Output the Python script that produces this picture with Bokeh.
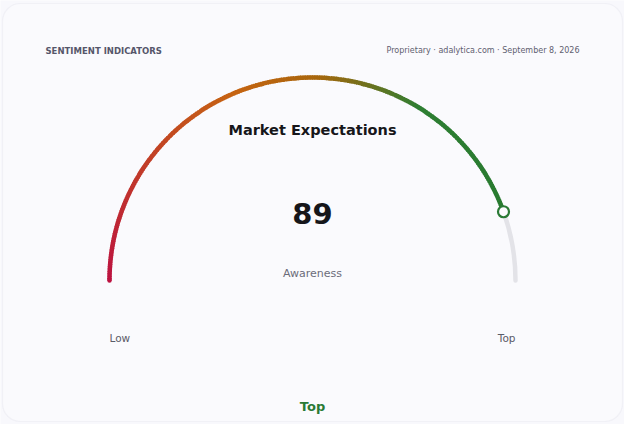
import numpy as np
from bokeh.plotting import figure
from bokeh.models import Range1d, BoxAnnotation
from bokeh.core.properties import value
from bokeh.embed import file_html
from bokeh.resources import INLINE

# ---- data ----
header_left = "SENTIMENT INDICATORS"
header_right = "Proprietary · adalytica.com · September 8, 2026"
title = "Market Expectations"
metric_label = "Awareness"
gauge_value = 89
gauge_min = 0
gauge_max = 100
scale_labels = ["Low", "Top"]
band_label = "Top"

# ---- layout ----
W, H = 624, 424
BG = "#f8f8fc"
CARD = "#fafafd"
FONT = value("DejaVu Sans")

p = figure(width=W, height=H, x_range=Range1d(0, W), y_range=Range1d(0, H),
           output_backend="svg", toolbar_location=None, min_border=0)
p.axis.visible = False
p.grid.visible = False
p.outline_line_color = None
p.background_fill_color = BG
p.border_fill_color = BG

card = BoxAnnotation(left=2, right=622, bottom=3, top=421, fill_color=CARD, fill_alpha=1,
                     line_color="#dfdfe8", line_width=1.2, border_radius=18, level="underlay")
p.add_layout(card)

cx, cy, R = 312, 144, 203
frac = (gauge_value - gauge_min) / (gauge_max - gauge_min)
theta_v = np.pi * (1 - frac)

# grey remainder
p.arc(x=[cx], y=[cy], radius=R, start_angle=0, end_angle=theta_v,
      line_color="#e3e3e8", line_width=4.5, line_cap="round")

# gradient portion
stops = [(0.0, (188, 18, 64)), (0.42, (198, 100, 18)), (0.57, (168, 102, 12)),
         (0.76, (46, 126, 50)), (1.0, (40, 122, 48))]
def grad(t):
    for (t0, c0), (t1, c1) in zip(stops[:-1], stops[1:]):
        if t <= t1:
            u = (t - t0) / (t1 - t0)
            c = [int(round(a + (b - a) * u)) for a, b in zip(c0, c1)]
            return "#%02x%02x%02x" % tuple(c)
    return "#%02x%02x%02x" % stops[-1][1]

n = 240
edges = np.linspace(np.pi, theta_v, n + 1)
starts = edges[1:]
ends = edges[:-1] + 0.004
ends[0] = edges[0]
cols = [grad((i + 0.5) / n) for i in range(n)]
p.arc(x=[cx] * n, y=[cy] * n, radius=R, start_angle=list(starts), end_angle=list(ends),
      line_color=cols, line_width=4.5, line_cap="butt")
# round cap at start
p.scatter(x=[cx - R], y=[cy], size=4.5, color=cols[0], line_color=None)

# marker
p.scatter(x=[cx + R * np.cos(theta_v)], y=[cy + R * np.sin(theta_v)], size=11,
          fill_color=CARD, line_color="#2a7a35", line_width=2.2)

# texts
p.text(x=[45], y=[374], text=[header_left], text_font=FONT, text_font_style="bold",
       text_font_size="8.5px", text_color="#55566a", text_baseline="middle", text_align="left")
p.text(x=[579], y=[374], text=[header_right], text_font=FONT,
       text_font_size="8px", text_color="#5f6070", text_baseline="middle", text_align="right")
p.text(x=[cx], y=[295], text=[title], text_font=FONT, text_font_style="bold",
       text_font_size="14.5px", text_color="#16161a", text_baseline="middle", text_align="center")
p.text(x=[cx], y=[211], text=[str(gauge_value)], text_font=FONT, text_font_style="bold",
       text_font_size="29px", text_color="#16161a", text_baseline="middle", text_align="center")
p.text(x=[cx], y=[151], text=[metric_label], text_font=FONT,
       text_font_size="11px", text_color="#6b6c7a", text_baseline="middle", text_align="center")
p.text(x=[cx - R], y=[87], text=[scale_labels[0]], text_font=FONT,
       text_font_size="10.5px", text_color="#5a5b68", text_baseline="middle", text_align="left")
p.text(x=[cx + R], y=[87], text=[scale_labels[1]], text_font=FONT,
       text_font_size="10.5px", text_color="#5a5b68", text_baseline="middle", text_align="right")
p.text(x=[cx], y=[18], text=[band_label], text_font=FONT, text_font_style="bold",
       text_font_size="13px", text_color="#2a7a35", text_baseline="middle", text_align="center")

html = file_html(p, INLINE)
html = html.replace("<body>", '<body style="background:%s">' % BG, 1)
open("out.html", "w").write(html)
